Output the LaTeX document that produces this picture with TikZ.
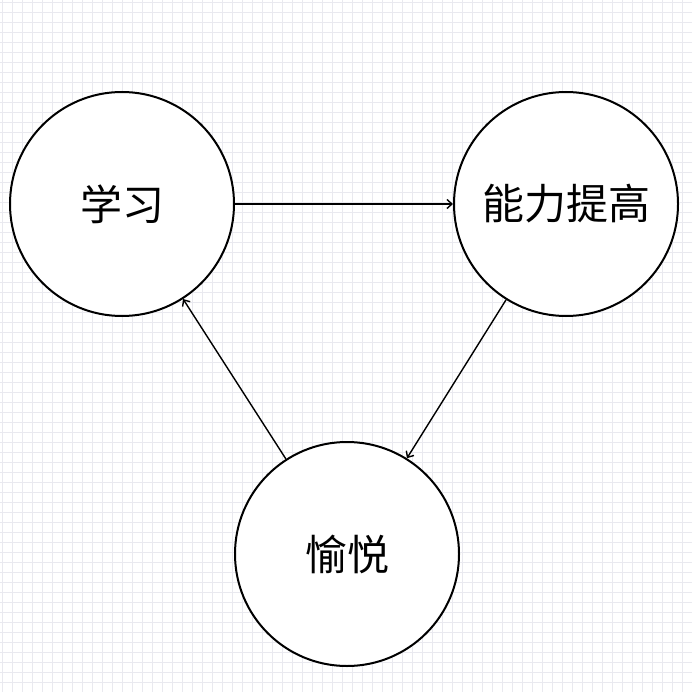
\documentclass[tikz,border=0pt]{standalone}
\usepackage{fontspec}
\newfontfamily\cjk{Noto Sans CJK SC}
\usetikzlibrary{arrows.meta}
\definecolor{gridc}{HTML}{E9E9EF}
\tikzset{
  circ/.style={circle, draw=black, line width=2pt, fill=white, minimum size=224pt, inner sep=0pt, font=\cjk\fontsize{42}{48}\selectfont},
  conn/.style={line width=1.4pt, -{Straight Barb[length=5pt,width=9pt,line width=1.4pt]}}
}
\begin{document}
\begin{tikzpicture}[x=1pt,y=-1pt]
\fill[white] (0,0) rectangle (692,692);
\useasboundingbox (0,0) rectangle (692,692);
\foreach \i in {0,...,69}{
  \draw[gridc, line width=1.6pt] (2.5+\i*10,0) -- (2.5+\i*10,692);
  \draw[gridc, line width=1.6pt] (0,2.5+\i*10) -- (692,2.5+\i*10);
}
\node[circ] (xx) at (122,204) {学习};
\node[circ] (nl) at (566,204) {能力提高};
\node[circ] (yy) at (347,554) {愉悦};
\draw[conn] (xx) -- (nl);
\draw[conn] (nl) -- (yy);
\draw[conn] (yy) -- (xx);
\end{tikzpicture}
\end{document}
